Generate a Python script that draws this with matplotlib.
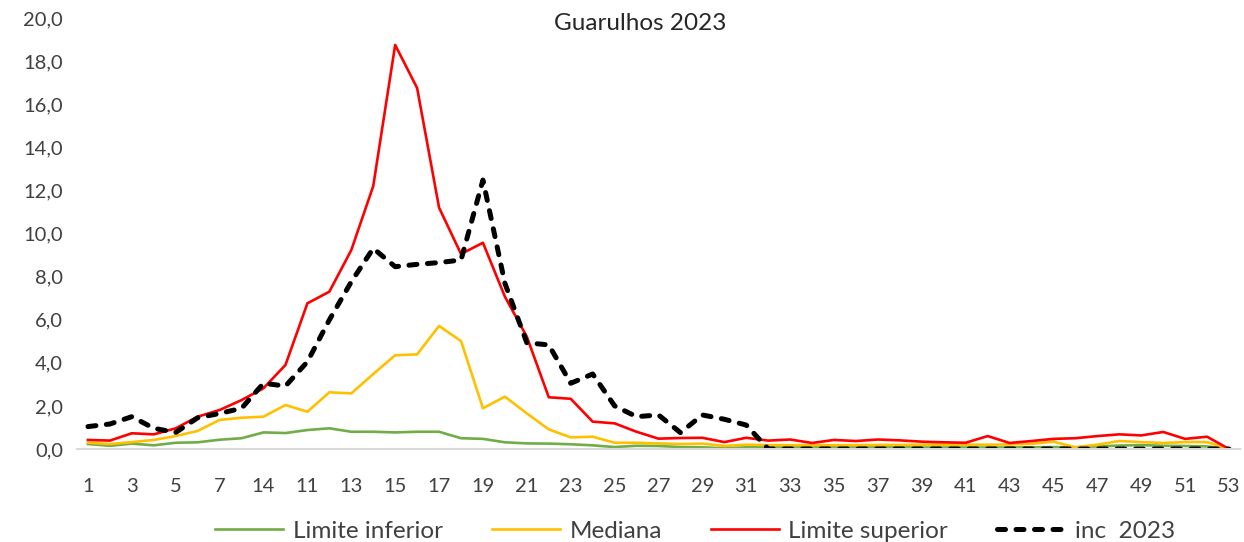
import matplotlib
matplotlib.use("Agg")
import matplotlib.pyplot as plt
import numpy as np

# semana epidemiológica (a 9ª aparece rotulada como "14" no original)
weeks = [str(i) for i in range(1, 54)]
weeks[8] = "14"

lim_inf = [0.23, 0.15, 0.25, 0.17, 0.29, 0.31, 0.43, 0.50, 0.77, 0.74,
           0.88, 0.96, 0.80, 0.80, 0.77, 0.80, 0.80, 0.50, 0.47, 0.31,
           0.26, 0.25, 0.22, 0.17, 0.09, 0.15, 0.14, 0.09, 0.08, 0.03,
           0.08, 0.09, 0.09, 0.08, 0.08, 0.08, 0.08, 0.08, 0.07, 0.07,
           0.07, 0.07, 0.07, 0.08, 0.09, 0.08, 0.12, 0.16, 0.18, 0.15,
           0.14, 0.12, 0.00]
mediana = [0.29, 0.23, 0.32, 0.42, 0.60, 0.84, 1.35, 1.45, 1.50, 2.04,
           1.73, 2.63, 2.58, 3.48, 4.35, 4.39, 5.71, 5.01, 1.89, 2.43,
           1.65, 0.91, 0.54, 0.57, 0.29, 0.29, 0.26, 0.23, 0.25, 0.14,
           0.20, 0.18, 0.18, 0.18, 0.18, 0.18, 0.19, 0.19, 0.20, 0.20,
           0.20, 0.20, 0.21, 0.24, 0.34, 0.08, 0.20, 0.37, 0.32, 0.28,
           0.32, 0.32, 0.00]
lim_sup = [0.42, 0.39, 0.73, 0.68, 0.96, 1.50, 1.81, 2.27, 2.82, 3.90,
           6.76, 7.30, 9.23, 12.20, 18.75, 16.75, 11.20, 9.05, 9.57, 7.07,
           5.21, 2.40, 2.33, 1.27, 1.19, 0.80, 0.48, 0.51, 0.52, 0.32,
           0.52, 0.39, 0.44, 0.28, 0.42, 0.37, 0.44, 0.40, 0.34, 0.31,
           0.29, 0.60, 0.28, 0.37, 0.47, 0.50, 0.60, 0.68, 0.63, 0.79,
           0.47, 0.57, 0.00]
inc_2023 = [1.04, 1.16, 1.50, 0.96, 0.77, 1.45, 1.65, 1.89, 3.05, 2.92,
            4.05, 5.99, 7.76, 9.31, 8.46, 8.57, 8.65, 8.77, 12.48, 7.69,
            4.93, 4.83, 3.05, 3.48, 2.00, 1.50, 1.58, 0.76, 1.58, 1.38,
            1.11] + [0.0] * 22

plt.rcParams["font.family"] = ["Lato", "DejaVu Sans"]

fig = plt.figure(figsize=(12.44, 5.42), dpi=100)
ax = fig.add_axes([77 / 1244, 1 - 449 / 542, (1240 - 77) / 1244, (449 - 18) / 542])

x = np.arange(1, len(weeks) + 1)
ax.plot(x, lim_inf, color="#70AD47", lw=1.9, label="Limite inferior")
ax.plot(x, mediana, color="#FFC000", lw=1.9, label="Mediana")
ax.plot(x, lim_sup, color="#FF0000", lw=1.9, label="Limite superior")
ax.plot(x, inc_2023, color="black", lw=3.6, dashes=(1.6, 2.1),
        dash_capstyle="round", label="inc  2023")

ax.set_xlim(0.5, len(weeks) + 0.5)
ax.set_ylim(0, 20)
ax.set_xticks(x[::2])
ax.set_xticklabels(weeks[::2])
yt = np.arange(0, 21, 2)
ax.set_yticks(yt)
ax.set_yticklabels([f"{v:.1f}".replace(".", ",") for v in yt])
ax.tick_params(axis="both", length=0, labelsize=14.5, colors="#404040")
ax.tick_params(axis="x", pad=21)
ax.tick_params(axis="y", pad=10)

for s in ("top", "right", "left"):
    ax.spines[s].set_visible(False)
ax.spines["bottom"].set_color("#D9D9D9")
ax.spines["bottom"].set_linewidth(1.5)

fig.text(640 / 1244, 1 - 23 / 542, "Guarulhos 2023", ha="center", va="center",
         fontsize=17.5, color="#262626")

fig.legend(loc="center", bbox_to_anchor=(695 / 1244, 1 - 531 / 542), ncol=4,
           frameon=False, fontsize=17.5, handlelength=2.8, columnspacing=2.0,
           handletextpad=0.4, labelcolor="#404040", borderpad=0)

fig.savefig("out.png", dpi=100)
